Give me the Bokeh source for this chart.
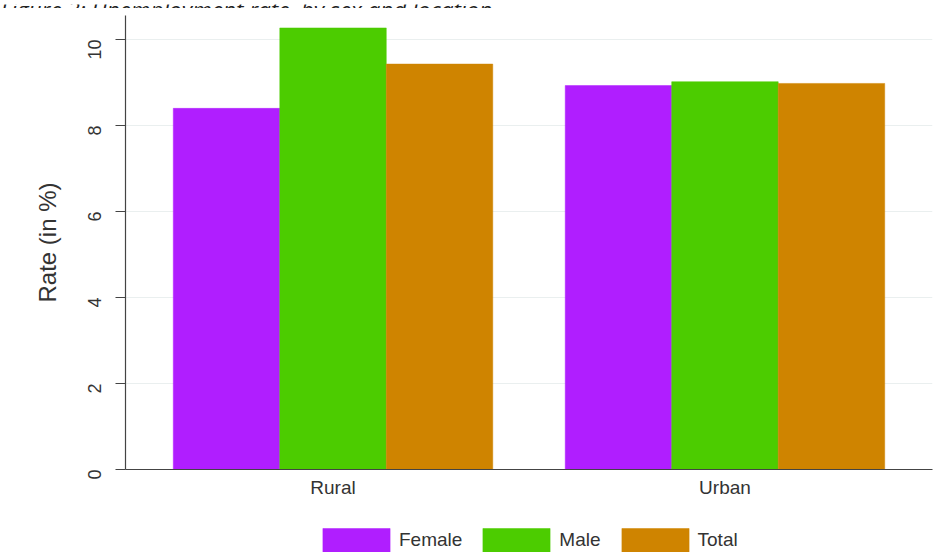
from bokeh.plotting import figure
from bokeh.layouts import column
from bokeh.models import (FactorRange, Range1d, Legend, LegendItem,
                          ColumnDataSource, Label, FixedTicker)
from bokeh.transform import dodge
from bokeh.embed import file_html
from bokeh.resources import INLINE

locations = ["Rural", "Urban"]
female = [8.40, 8.93]
male = [10.27, 9.02]
total = [9.43, 8.98]
series = ["Female", "Male", "Total"]
colors = ["#b01eff", "#4ccc00", "#cf8400"]
y_ticks = [0, 2, 4, 6, 8, 10]
title_text = "Figure 3: Unemployment rate, by sex and location"
y_label = "Rate (in %)"

W = 934
src = ColumnDataSource(dict(loc=locations, Female=female, Male=male, Total=total))


def no_align(fig):
    try:
        fig.frame_align = False
    except Exception:
        pass


# --- title strip (only the lower part of the title is visible, as in the reference)
pt = figure(width=W, height=8, x_range=Range1d(0, W), y_range=Range1d(0, 8),
            x_axis_type=None, y_axis_type=None,
            output_backend="svg", toolbar_location=None,
            min_border=0, min_border_left=0, min_border_right=0,
            min_border_top=0, min_border_bottom=0)
no_align(pt)
pt.outline_line_color = None
pt.background_fill_color = "white"
pt.border_fill_color = "white"
pt.add_layout(Label(x=0, y=3.5, text=title_text, text_font="Open Sans",
                    text_font_style="italic", text_font_size="22.5px",
                    text_color="#222222", text_baseline="alphabetic"))

# --- main chart
p = figure(width=W, height=502,
           x_range=FactorRange(factors=locations, range_padding=0.0295,
                               range_padding_units="absolute"),
           y_range=Range1d(0, 10.56),
           output_backend="svg", toolbar_location=None,
           min_border_left=125, min_border_right=2,
           min_border_top=7, min_border_bottom=41)
no_align(p)

bw = 0.2717
offsets = [-bw, 0.0, bw]
for s, c, off in zip(series, colors, offsets):
    p.vbar(x=dodge("loc", off, range=p.x_range), top=s, bottom=0,
           width=bw, source=src, fill_color=c, line_color=c, line_width=0.5)

p.outline_line_color = None
p.background_fill_color = "white"
p.border_fill_color = "white"
p.xgrid.grid_line_color = None
p.ygrid.grid_line_color = "#eaefef"
p.ygrid.grid_line_width = 1
p.ygrid.ticker = FixedTicker(ticks=y_ticks)

ya = p.yaxis[0]
ya.ticker = FixedTicker(ticks=y_ticks)
ya.major_label_orientation = 1.5708
ya.axis_line_color = "#444444"
ya.axis_line_width = 1.2
ya.major_tick_line_color = "#444444"
ya.major_tick_line_width = 1.2
ya.major_tick_out = 10
ya.major_tick_in = 0
ya.minor_tick_line_color = None
ya.major_label_standoff = 21
ya.major_label_text_font = "Liberation Sans"
ya.major_label_text_font_size = "18px"
ya.major_label_text_color = "#333333"
ya.axis_label = y_label
ya.axis_label_text_font = "Liberation Sans"
ya.axis_label_text_font_size = "24px"
ya.axis_label_text_font_style = "normal"
ya.axis_label_text_color = "#333333"
ya.axis_label_standoff = 18

xa = p.xaxis[0]
xa.axis_line_color = "#444444"
xa.axis_line_width = 1.2
xa.major_tick_line_color = None
xa.major_tick_out = 0
xa.major_tick_in = 0
xa.minor_tick_line_color = None
xa.major_label_standoff = 7
xa.major_label_text_font = "Liberation Sans"
xa.major_label_text_font_size = "19px"
xa.major_label_text_color = "#333333"

# --- legend strip (bars kept out of view; only the legend shows)
pl = figure(width=W, height=42, x_range=FactorRange(factors=locations),
            y_range=Range1d(20, 21), x_axis_type=None, y_axis_type=None,
            output_backend="svg", toolbar_location=None,
            min_border=0, min_border_left=0, min_border_right=0,
            min_border_top=0, min_border_bottom=0)
no_align(pl)
pl.outline_line_color = None
pl.background_fill_color = "white"
pl.border_fill_color = "white"
pl.xgrid.grid_line_color = None
pl.ygrid.grid_line_color = None
leg_renderers = []
for s, c, off in zip(series, colors, offsets):
    r = pl.vbar(x=dodge("loc", off, range=pl.x_range), top=s, bottom=0,
                width=bw, source=src, fill_color=c, line_color=c, line_width=0.5)
    leg_renderers.append(r)

legend = Legend(items=[LegendItem(label=s, renderers=[r]) for s, r in zip(series, leg_renderers)],
                orientation="horizontal", location=(314, -3),
                glyph_width=84, glyph_height=30, label_height=30,
                label_text_font="Liberation Sans", label_text_font_size="19px",
                label_text_color="#333333",
                border_line_color=None, background_fill_alpha=0,
                spacing=12, label_standoff=1, padding=0, margin=0)
pl.add_layout(legend)

layout = column(pt, p, pl, spacing=0)
open("out.html", "w").write(file_html(layout, INLINE))
